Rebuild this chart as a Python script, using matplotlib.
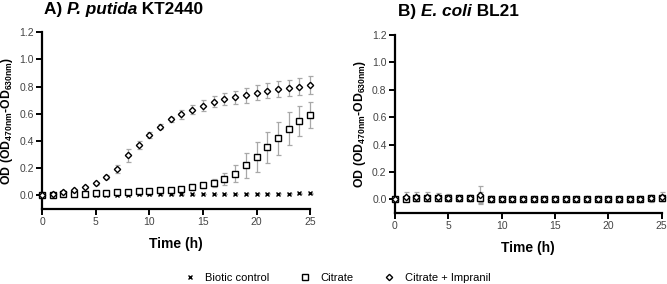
import numpy as np
import matplotlib.pyplot as plt

plt.rcParams['font.family'] = ['Liberation Sans', 'DejaVu Sans']
plt.rcParams['mathtext.fontset'] = 'custom'
plt.rcParams['mathtext.rm'] = 'Liberation Sans:bold'
plt.rcParams['mathtext.bf'] = 'Liberation Sans:bold'

time_h = list(range(26))

# panel A - P. putida KT2440
a_biotic = [0.0, 0.002, 0.003, 0.003, 0.004, 0.005, 0.005, 0.006, 0.006, 0.007, 0.007, 0.008, 0.008,
            0.009, 0.009, 0.010, 0.010, 0.011, 0.011, 0.012, 0.012, 0.013, 0.014, 0.014, 0.015, 0.016]
a_biotic_err = [0.003] * 26
a_citrate = [0.0, 0.005, 0.008, 0.010, 0.012, 0.015, 0.020, 0.022, 0.025, 0.030, 0.032, 0.037, 0.042,
             0.050, 0.060, 0.074, 0.094, 0.12, 0.16, 0.22, 0.284, 0.353, 0.42, 0.49, 0.55, 0.59]
a_citrate_err = [0.003, 0.004, 0.004, 0.005, 0.005, 0.005, 0.006, 0.006, 0.007, 0.008, 0.008, 0.009, 0.01,
                 0.012, 0.015, 0.02, 0.03, 0.045, 0.065, 0.095, 0.11, 0.115, 0.12, 0.12, 0.11, 0.095]
a_impranil = [0.0, 0.01, 0.022, 0.042, 0.062, 0.09, 0.133, 0.195, 0.294, 0.368, 0.444, 0.506, 0.558,
              0.595, 0.63, 0.66, 0.69, 0.71, 0.72, 0.736, 0.755, 0.77, 0.78, 0.79, 0.80, 0.81]
a_impranil_err = [0.003, 0.005, 0.006, 0.008, 0.008, 0.01, 0.015, 0.03, 0.05, 0.03, 0.02, 0.02, 0.02,
                  0.03, 0.035, 0.04, 0.04, 0.045, 0.05, 0.055, 0.055, 0.055, 0.06, 0.06, 0.065, 0.065]

# panel B - E. coli BL21
b_biotic = [0.0, 0.004, 0.004, 0.005, 0.005, 0.005, 0.005, 0.005, 0.01, 0.004, 0.004, 0.004, 0.005,
            0.005, 0.005, 0.005, 0.005, 0.005, 0.005, 0.005, 0.005, 0.005, 0.005, 0.006, 0.008, 0.01]
b_biotic_err = [0.003, 0.015, 0.015, 0.015, 0.012, 0.012, 0.012, 0.012, 0.03, 0.01, 0.01, 0.01, 0.01,
                0.01, 0.01, 0.01, 0.01, 0.01, 0.01, 0.01, 0.01, 0.01, 0.01, 0.01, 0.012, 0.015]
b_citrate = [0.0, 0.005, 0.006, 0.007, 0.006, 0.006, 0.006, 0.007, 0.012, 0.003, 0.004, 0.005, 0.005,
             0.005, 0.005, 0.005, 0.005, 0.005, 0.005, 0.004, 0.004, 0.003, 0.004, 0.005, 0.006, 0.01]
b_citrate_err = [0.003, 0.02, 0.02, 0.02, 0.02, 0.02, 0.02, 0.02, 0.04, 0.02, 0.015, 0.015, 0.015,
                 0.015, 0.015, 0.015, 0.015, 0.015, 0.015, 0.015, 0.015, 0.015, 0.015, 0.015, 0.02, 0.025]
b_impranil = [0.0, 0.02, 0.02, 0.02, 0.015, 0.012, 0.01, 0.01, 0.03, 0.005, 0.005, 0.005, 0.005,
              0.005, 0.005, 0.005, 0.005, 0.005, 0.004, 0.004, 0.004, 0.003, 0.004, 0.005, 0.006, 0.02]
b_impranil_err = [0.003, 0.03, 0.03, 0.03, 0.03, 0.025, 0.025, 0.025, 0.065, 0.02, 0.02, 0.02, 0.02,
                  0.02, 0.02, 0.02, 0.02, 0.02, 0.02, 0.02, 0.02, 0.02, 0.02, 0.02, 0.025, 0.03]

labels = ['Biotic control', 'Citrate', 'Citrate + Impranil']
markers = ['x', 's', 'D']
msizes = [3.0, 3.8, 3.2]

fig = plt.figure(figsize=(6.67, 2.84), dpi=100)
axA = fig.add_axes([0.063, 0.264, 0.402, 0.623])
axB = fig.add_axes([0.592, 0.250, 0.400, 0.627])

panels = [
    (axA, [a_biotic, a_citrate, a_impranil], [a_biotic_err, a_citrate_err, a_impranil_err]),
    (axB, [b_biotic, b_citrate, b_impranil], [b_biotic_err, b_citrate_err, b_impranil_err]),
]

handles = []
for ax, series, errs in panels:
    for i in range(3):
        ax.errorbar(time_h, series[i], yerr=errs[i], fmt='none', ecolor='#a8a8a8',
                    elinewidth=0.9, capsize=1.8, capthick=0.9, clip_on=False, zorder=2)
        h, = ax.plot(time_h, series[i], linestyle='none', marker=markers[i], ms=msizes[i],
                     mfc='white' if i > 0 else 'black', mec='black', mew=1.0,
                     clip_on=False, zorder=3, label=labels[i])
        if ax is axA:
            handles.append(h)
    ax.set_xlim(0, 25)
    ax.set_ylim(-0.1, 1.2)
    ax.set_xticks([0, 5, 10, 15, 20, 25])
    ax.set_yticks([0.0, 0.2, 0.4, 0.6, 0.8, 1.0, 1.2])
    ax.set_yticklabels(['0.0', '0.2', '0.4', '0.6', '0.8', '1.0', '1.2'])
    for s in ['top', 'right']:
        ax.spines[s].set_visible(False)
    for s in ['left', 'bottom']:
        ax.spines[s].set_linewidth(1.6)
    ax.tick_params(direction='out', length=4, width=1.4, labelsize=7.5, labelcolor='#444444', pad=2)
    ax.set_xlabel('Time (h)', fontsize=10, fontweight='bold', labelpad=7)
    ax.set_ylabel(r'$\mathrm{OD\ (OD_{470nm}\text{-}OD_{630nm})}$', fontsize=8.8, labelpad=3)


def draw_title(x, y, parts):
    prev = None
    for txt, st in parts:
        if prev is None:
            prev = fig.text(x, y, txt, fontsize=12.4, fontweight='bold', style=st,
                            va='baseline', ha='left')
        else:
            prev = plt.annotate(txt, xy=(1, 0), xycoords=prev, fontsize=12.4,
                                fontweight='bold', style=st, va='bottom', ha='left')


draw_title(0.066, 0.950, [('A) ', 'normal'), ('P. putida', 'italic'), (' KT2440', 'normal')])
draw_title(0.597, 0.943, [('B) ', 'normal'), ('E. coli', 'italic'), (' BL21', 'normal')])

fig.legend(handles=handles, labels=labels, loc='lower center', bbox_to_anchor=(0.505, -0.03),
           ncol=3, frameon=False, fontsize=8, handletextpad=0.8, columnspacing=2.6,
           handlelength=1.2)

fig.savefig('out.png', dpi=100)
